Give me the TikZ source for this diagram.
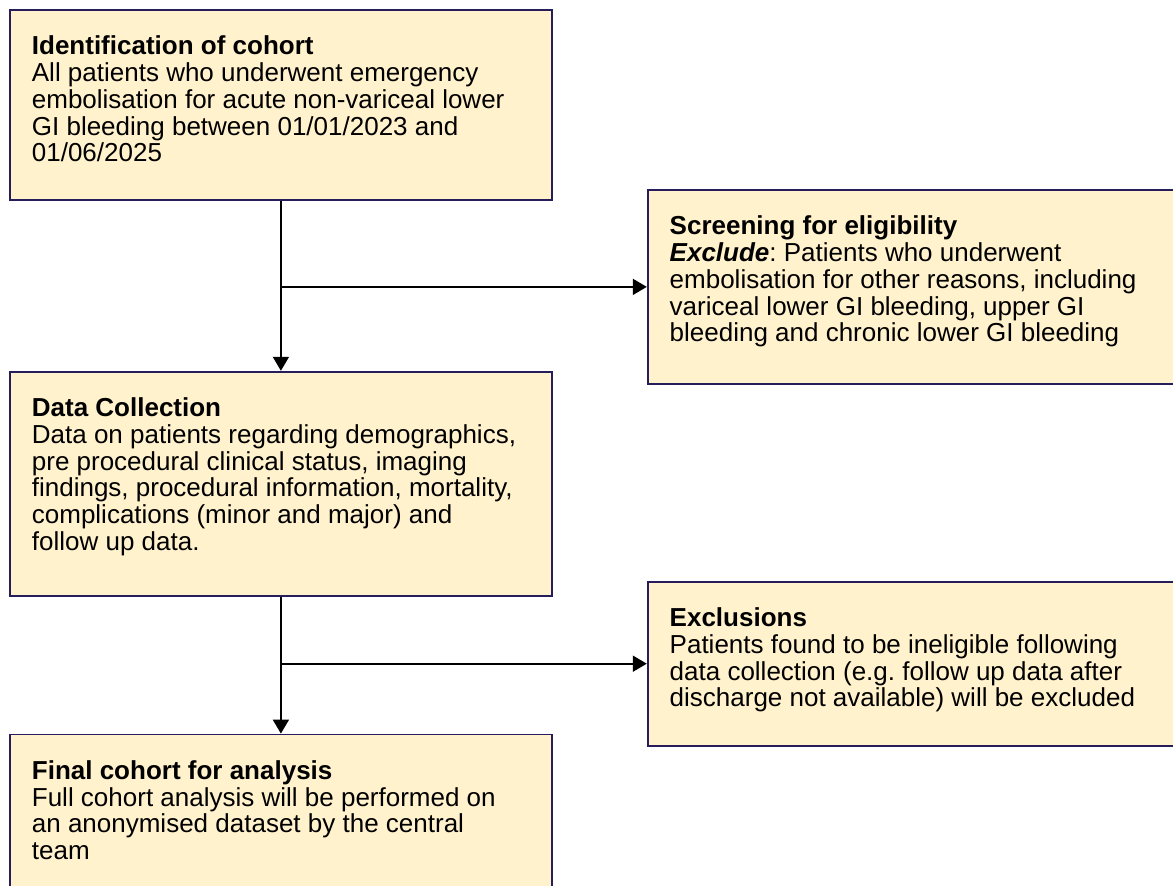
\documentclass[tikz,border=0pt]{standalone}
\usepackage{fontspec}
\setmainfont{Liberation Sans}
\usetikzlibrary{positioning,arrows.meta}

\definecolor{boxfill}{HTML}{FFF2CC}
\definecolor{boxline}{RGB}{38,30,90}
\newcommand{\boxbody}[2]{\parbox[t][#1][t]{249pt}{\raggedright\frenchspacing\fontsize{13pt}{13.4pt}\selectfont #2}}

\begin{document}
\begin{tikzpicture}[x=0.5pt,y=-0.5pt,node distance=85pt,
    flowbox/.style={draw=boxline,line width=0.9pt,fill=boxfill,inner xsep=11pt,
      inner ysep=13pt,minimum width=271pt,anchor=north west},
    flowarrow/.style={-{Triangle[length=7pt,width=8pt]},line width=0.9pt}]
  \useasboundingbox (0,0) rectangle (1173,886);

  % left column
  \node[flowbox] (ident) at (9,9) {\boxbody{69pt}{\textbf{Identification of cohort}\\
    All patients who underwent emergency\\
    embolisation for acute non-variceal lower\\
    GI bleeding between 01/01/2023 and\\
    01/06/2025}};
  \node[flowbox] (data) [below=85pt of ident.south west,anchor=north west] {\boxbody{86pt}{\textbf{Data Collection}\\
    Data on patients regarding demographics,\\
    pre procedural clinical status, imaging\\
    findings, procedural information, mortality,\\
    complications (minor and major) and\\
    follow up data.}};
  \node[flowbox] (final) [below=68.5pt of data.south west,anchor=north west] {\boxbody{58pt}{\textbf{Final cohort for analysis}\\
    Full cohort analysis will be performed on\\
    an anonymised dataset by the central\\
    team}};

  % right column (runs off the page)
  \node[flowbox] (screen) [below right=90pt and 47pt of ident.north east] {\boxbody{71pt}{\textbf{Screening for eligibility}\\
    \textbf{\textit{Exclude}}: Patients who underwent\\
    embolisation for other reasons, including\\
    variceal lower GI bleeding, upper GI\\
    bleeding and chronic lower GI bleeding}};
  \node[flowbox] (excl) [below=98pt of screen.south west,anchor=north west] {\boxbody{56pt}{\textbf{Exclusions}\\
    Patients found to be ineligible following\\
    data collection (e.g. follow up data after\\
    discharge not available) will be excluded}};

  % branch points
  \coordinate (b1) at (ident.south |- screen.west);
  \coordinate (b2) at (data.south |- excl.west);

  % arrows
  \path[flowarrow]
    (ident) edge (data)
    (data) edge (final)
    (b1) edge (screen.west)
    (b2) edge (excl.west);
\end{tikzpicture}
\end{document}
